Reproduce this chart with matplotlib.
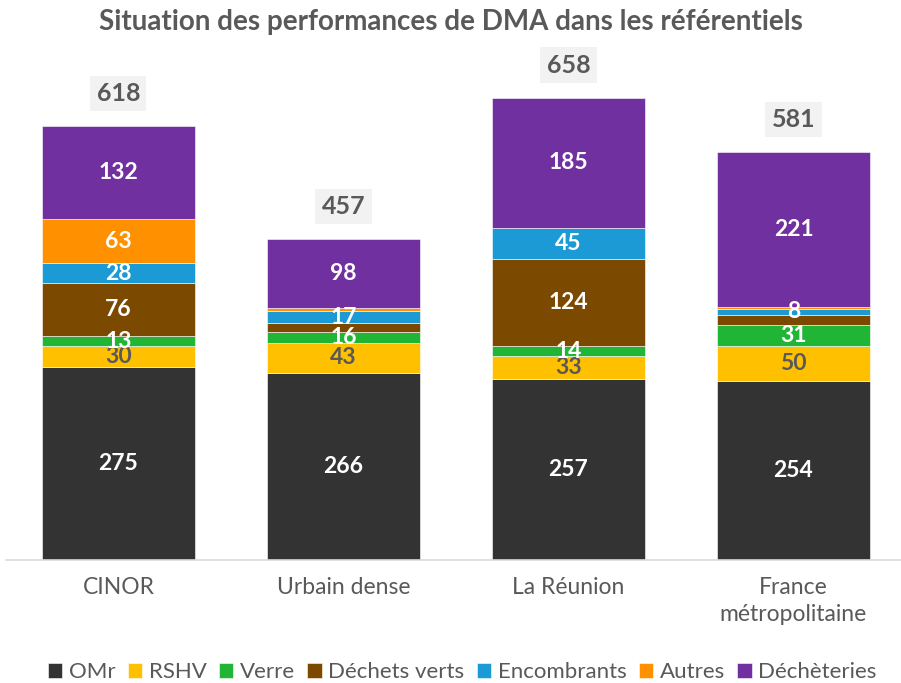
import matplotlib
matplotlib.use("Agg")
import matplotlib.pyplot as plt
import numpy as np

plt.rcParams['font.family'] = ['Lato', 'DejaVu Sans']

categories = ["CINOR", "Urbain dense", "La Réunion", "France\nmétropolitaine"]
series_names = ["OMr", "RSHV", "Verre", "Déchets verts", "Encombrants", "Autres", "Déchèteries"]
omr = [275, 266, 257, 254]
rshv = [30, 43, 33, 50]
verre = [13, 16, 14, 31]
dechets_verts = [76, 12, 124, 14]
encombrants = [28, 17, 45, 8]
autres = [63, 5, 0, 3]
decheteries = [132, 98, 185, 221]
totals = [618, 457, 658, 581]

colors = ["#333333", "#FFC000", "#21B536", "#7B4A00", "#1B9AD6", "#FF9000", "#7030A0"]
label_colors = ["white", "#595959", "white", "white", "white", "white", "white"]
show = [
    [True, True, True, True],
    [True, True, True, True],
    [True, True, True, True],
    [True, False, True, False],
    [True, True, True, True],
    [True, False, False, False],
    [True, True, True, True],
]

series = [omr, rshv, verre, dechets_verts, encombrants, autres, decheteries]

fig = plt.figure(figsize=(9.01, 6.83), dpi=100)
ax = fig.add_axes([6/901, 1 - 560/683, 895/901, (560 - 68)/683])
x = np.arange(len(categories))
bottom = np.zeros(len(categories))
width = 0.68
for i, (name, vals) in enumerate(zip(series_names, series)):
    vals = np.array(vals, dtype=float)
    ax.bar(x, vals, width, bottom=bottom, color=colors[i], label=name,
           edgecolor='white', linewidth=0.4)
    for j in range(len(categories)):
        if show[i][j] and vals[j] > 0:
            ax.text(x[j], bottom[j] + vals[j] / 2, f"{int(vals[j])}", ha='center', va='center',
                    color=label_colors[i], fontsize=16.5, fontweight='bold')
    bottom += vals

for j in range(len(categories)):
    ax.text(x[j], totals[j] + 46, str(totals[j]), ha='center', va='center',
            color='#595959', fontsize=18, fontweight='bold',
            bbox=dict(boxstyle='square,pad=0.25', facecolor='#F2F2F2', edgecolor='none'))

ax.set_xlim(-0.5, 3.478)
ax.set_ylim(0, 700)
ax.set_yticks([])
for s in ['top', 'right', 'left']:
    ax.spines[s].set_visible(False)
ax.spines['bottom'].set_color('#D9D9D9')
ax.spines['bottom'].set_linewidth(1.2)
ax.set_xticks(x)
ax.set_xticklabels(categories, fontsize=16.5, color='#595959', linespacing=1.35)
ax.tick_params(axis='x', length=0, pad=12)

fig.text(0.5, 1 - 22/683, "Situation des performances de DMA dans les référentiels",
         ha='center', va='center', fontsize=20, fontweight='bold', color='#595959')

handles, labels = ax.get_legend_handles_labels()
fig.legend(handles, labels, loc='center', bbox_to_anchor=(0.513, 1 - 672/683), ncol=7,
           frameon=False, fontsize=16, handlelength=0.65, handleheight=0.65,
           handletextpad=0.3, columnspacing=0.55, labelcolor='#595959')

fig.savefig("out.png", dpi=100)
